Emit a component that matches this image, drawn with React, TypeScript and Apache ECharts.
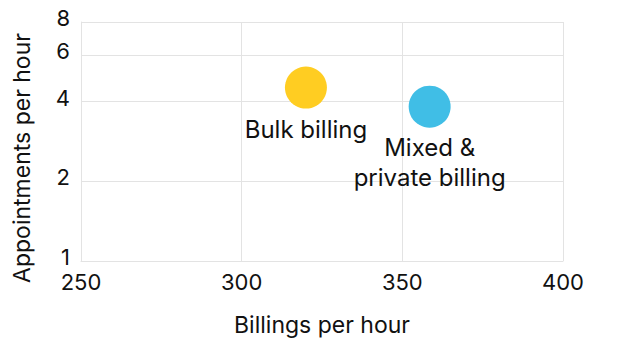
import React, { useEffect, useRef } from "react";
import * as echarts from "echarts";

const seriesNames = ["Bulk billing", "Mixed &\nprivate billing"];
const billingsPerHour = [320, 358.5];
const appointmentsPerHour = [4.52, 3.83];
const colors = ["#FFCD22", "#40BEE6"];
const xTicks = [250, 300, 350, 400];
const yTicks = [1, 2, 4, 6, 8];

export default function App() {
  const ref = useRef<HTMLDivElement>(null);
  useEffect(() => {
    if (!ref.current) return;
    const chart = echarts.init(ref.current, null, { renderer: "svg" });
    const font = "Inter";
    chart.setOption({
      animation: false,
      grid: { left: 81, right: 58, top: 22, bottom: 77 },
      xAxis: {
        type: "value",
        min: 250,
        max: 400,
        interval: 50,
        name: "Billings per hour",
        nameLocation: "middle",
        nameGap: 52,
        nameTextStyle: { fontFamily: font, fontSize: 23, color: "#111" },
        axisLine: { show: true, lineStyle: { color: "#e3e3e3" } },
        axisTick: { show: false },
        axisLabel: { fontFamily: font, fontSize: 22, color: "#111", margin: 10, customValues: xTicks },
        splitLine: { show: true, lineStyle: { color: "#e3e3e3" } },
      },
      yAxis: {
        type: "log",
        logBase: 2,
        min: 1,
        max: 8,
        axisLine: { show: true, lineStyle: { color: "#e3e3e3" } },
        axisTick: { show: false, customValues: yTicks },
        axisLabel: {
          fontFamily: font,
          fontSize: 22,
          color: "#111",
          margin: 11,
          verticalAlign: "bottom",
          lineHeight: 8,
          customValues: yTicks,
        },
        splitLine: { show: true, lineStyle: { color: "#e3e3e3" } },
      },
      graphic: [
        {
          type: "text",
          x: 22,
          y: 158,
          rotation: Math.PI / 2,
          style: {
            text: "Appointments per hour",
            fontFamily: font,
            fontSize: 23,
            fill: "#111",
            align: "center",
            verticalAlign: "middle",
          },
        },
      ],
      series: seriesNames.map((name, i) => ({
        type: "scatter",
        name,
        symbolSize: 42,
        data: [[billingsPerHour[i], appointmentsPerHour[i]]],
        itemStyle: { color: colors[i], opacity: 1 },
        label: {
          show: true,
          position: "bottom",
          distance: i === 0 ? 6 : 5,
          formatter: name,
          fontFamily: font,
          fontSize: 24,
          lineHeight: 30,
          color: "#111",
          align: "center",
        },
      })),
    });
    return () => chart.dispose();
  }, []);
  return <div ref={ref} style={{ width: 621, height: 341, position: "absolute", left: 0, top: 0 }} />;
}
